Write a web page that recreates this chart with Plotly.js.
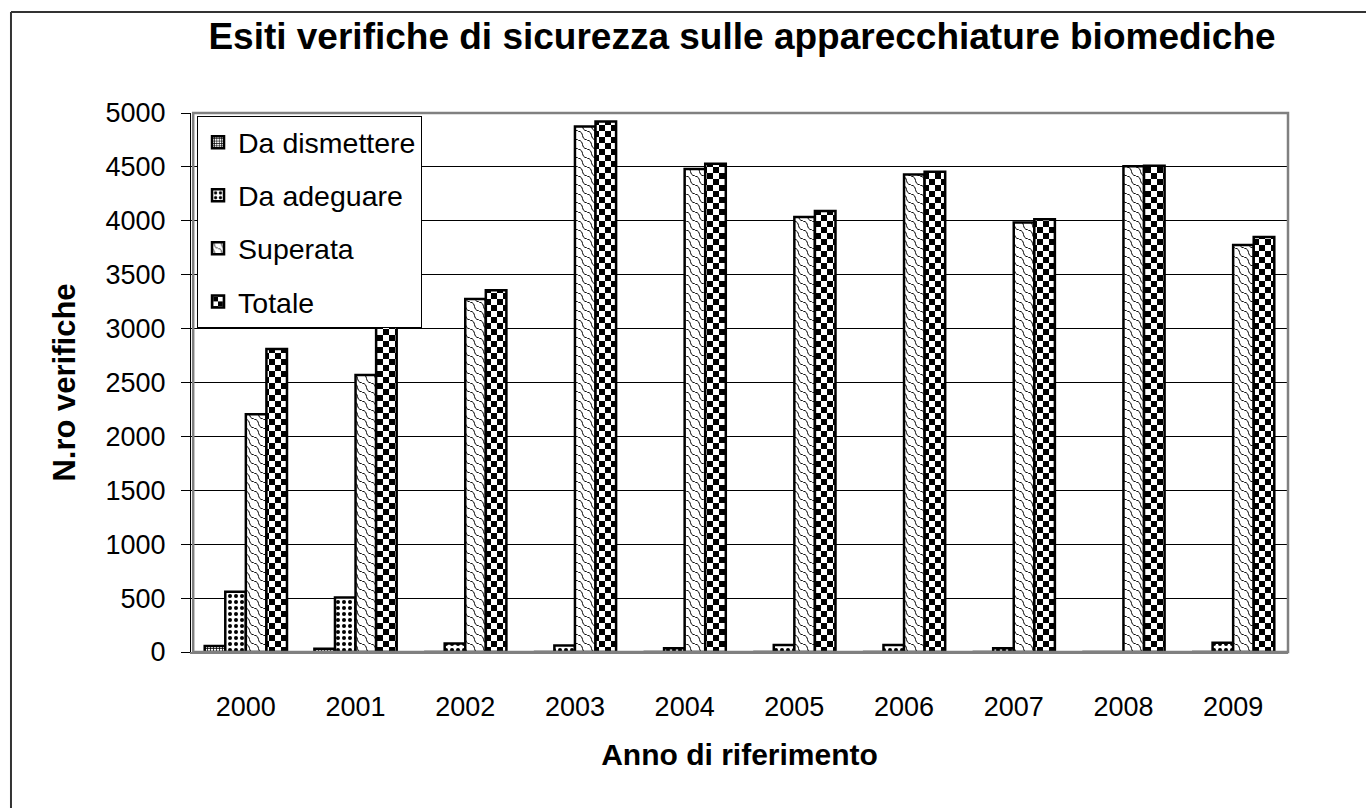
<!DOCTYPE html>
<html>
<head>
<meta charset="utf-8">
<script src="https://cdn.plot.ly/plotly-3.0.1.min.js"></script>
<style>html,body{margin:0;padding:0;background:#fff;}#chart{width:1366px;height:808px;}</style>
</head>
<body>
<div id="chart"></div>
<script>
const years = ['2000','2001','2002','2003','2004','2005','2006','2007','2008','2009'];
const daDismettere = [55, 30, 0, 0, 0, 0, 0, 0, 0, 0];
const daAdeguare = [560, 505, 80, 60, 35, 65, 65, 35, 0, 85];
const superata = [2205, 2570, 3275, 4875, 4480, 4035, 4430, 3985, 4505, 3775];
const totale = [2810, 3105, 3355, 4920, 4530, 4090, 4455, 4015, 4510, 3850];
const seriesNames = ['Da dismettere', 'Da adeguare', 'Superata', 'Totale'];
const yTicks = [0, 500, 1000, 1500, 2000, 2500, 3000, 3500, 4000, 4500, 5000];

const FONT = 'Liberation Sans, Arial, sans-serif';
const uids = ['serdis', 'serade', 'sersup', 'sertot'];
const patterns = [
  {shape: '+', size: 3, solidity: 0.45},
  {shape: '.', size: 6, solidity: 0.35},
  {shape: '\\', size: 8, solidity: 0.15},
  {shape: '.', size: 10, solidity: 0.5}
];
const seriesData = [daDismettere, daAdeguare, superata, totale];

const traces = seriesData.map((vals, i) => ({
  type: 'bar',
  name: seriesNames[i],
  uid: uids[i],
  x: years,
  y: vals,
  legendgroup: 'g' + i,
  marker: {
    color: 'white',
    line: {color: 'black', width: 2.5},
    pattern: Object.assign({fgcolor: 'black', bgcolor: 'white', fillmode: 'replace'}, patterns[i])
  },
  hoverinfo: 'x+y+name'
}));

const layout = {
  width: 1366,
  height: 808,
  margin: {l: 191, r: 78, t: 113, b: 156},
  paper_bgcolor: 'white',
  plot_bgcolor: 'white',
  font: {family: FONT, color: 'black'},
  barmode: 'group',
  bargap: 0.25,
  bargroupgap: 0,
  title: {
    text: 'Esiti verifiche di sicurezza sulle apparecchiature biomediche',
    font: {family: FONT, size: 37, weight: 700, color: 'black'},
    xref: 'container', yref: 'container',
    x: 0.5432, xanchor: 'center',
    y: 0.956, yanchor: 'middle'
  },
  xaxis: {
    type: 'category',
    tickfont: {family: FONT, size: 27, color: 'black'},
    ticks: '',
    ticklabelstandoff: 30,
    showline: true, linecolor: '#808080', linewidth: 2,
    showgrid: false,
    title: {text: 'Anno di riferimento', font: {family: FONT, size: 30, weight: 700, color: 'black'}, standoff: 23}
  },
  yaxis: {
    range: [0, 5000],
    tickvals: yTicks,
    ticktext: yTicks.map(String),
    tickfont: {family: FONT, size: 27, color: 'black'},
    ticks: 'outside', ticklen: 9, tickcolor: 'black', tickwidth: 1,
    ticklabelstandoff: 10,
    showline: true, linecolor: 'black', linewidth: 1,
    showgrid: true, gridcolor: 'black', gridwidth: 1,
    zeroline: false,
    title: {text: 'N.ro verifiche', font: {family: FONT, size: 31, weight: 700, color: 'black'}, standoff: 20}
  },
  legend: {
    x: 0.0055, y: 0.994, xanchor: 'left', yanchor: 'top',
    bgcolor: 'white', bordercolor: 'black', borderwidth: 1,
    font: {family: FONT, size: 28.5, color: 'black'},
    traceorder: 'grouped', tracegroupgap: 13
  },
  showlegend: true,
  shapes: [
    {type: 'rect', xref: 'paper', yref: 'paper', x0: 0.002, x1: 1, y0: 0, y1: 1,
     line: {color: '#808080', width: 2.5}, fillcolor: 'rgba(0,0,0,0)', layer: 'above'},
    {type: 'line', xref: 'paper', yref: 'paper', x0: -0.1641, x1: 1.2, y0: 1.1874, y1: 1.1874,
     line: {color: '#333333', width: 2}},
    {type: 'line', xref: 'paper', yref: 'paper', x0: -0.1641, x1: -0.1641, y0: -0.4, y1: 1.1874,
     line: {color: '#333333', width: 2}}
  ]
};

const SVGNS = 'http://www.w3.org/2000/svg';
function mk(tag, attrs) {
  const el = document.createElementNS(SVGNS, tag);
  Object.keys(attrs).forEach(k => el.setAttribute(k, attrs[k]));
  return el;
}
function restyleTextures(gd) {
  gd.querySelectorAll('pattern').forEach(p => {
    const id = p.getAttribute('id') || '';
    if (id.indexOf('sertot') >= 0) {
      while (p.firstChild) p.removeChild(p.firstChild);
      p.setAttribute('width', 12); p.setAttribute('height', 12);
      p.appendChild(mk('rect', {x: 0, y: 0, width: 12, height: 12, fill: 'white'}));
      p.appendChild(mk('rect', {x: 0, y: 0, width: 6, height: 6, fill: 'black'}));
      p.appendChild(mk('rect', {x: 6, y: 6, width: 6, height: 6, fill: 'black'}));
    } else if (id.indexOf('sersup') >= 0) {
      while (p.firstChild) p.removeChild(p.firstChild);
      p.setAttribute('width', 9); p.setAttribute('height', 9);
      p.appendChild(mk('rect', {x: 0, y: 0, width: 9, height: 9, fill: 'white'}));
      p.appendChild(mk('path', {d: 'M0,0 C7,1 2,8 9,9', fill: 'none', stroke: 'black', 'stroke-width': 1}));
    }
  });
}

Plotly.newPlot('chart', traces, layout, {displayModeBar: false, staticPlot: true}).then(restyleTextures);
</script>
</body>
</html>
